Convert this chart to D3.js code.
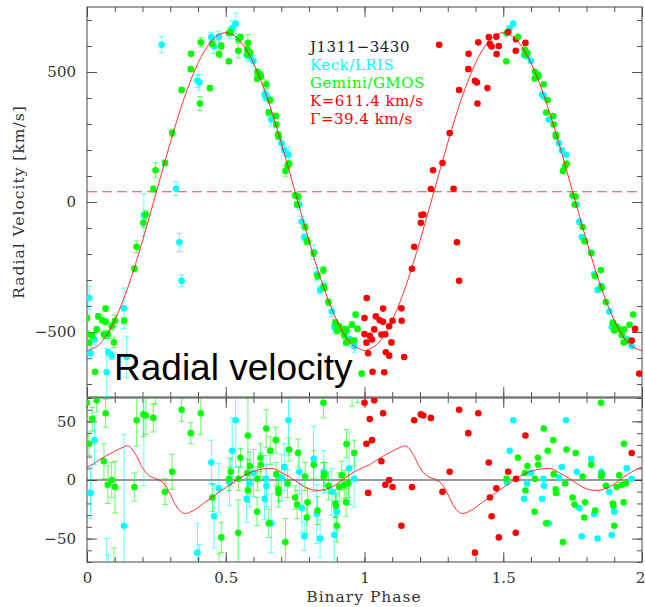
<!DOCTYPE html>
<html>
<head>
<meta charset="utf-8">
<script src="https://cdn.jsdelivr.net/npm/d3@7"></script>
<style>
  body { margin: 0; background: #fff; }
  svg { display: block; }
</style>
</head>
<body>
<svg id="chart" width="645" height="607"></svg>
<script>
// fit parameters (shown in the legend)
const starName = "J1311\u22123430"
const K = 611.4
const gamma = 39.4

// phase ticks / labels
const phaseTicks = [0, 0.5, 1, 1.5, 2]
const rvTicks = [-500, 0, 500]
const residTicks = [-50, 0, 50]

// sine fit (one cycle, redrawn for the second)
const fitPhase = [0, 0.05, 0.1, 0.15, 0.2, 0.25, 0.3, 0.35, 0.4, 0.45, 0.5,
                  0.55, 0.6, 0.65, 0.7, 0.75, 0.8, 0.85, 0.9, 0.95, 1]
const fitRV = [-572, -542, -455, -320, -149, 39, 228, 399, 534, 621, 651,
               621, 534, 399, 228, 39, -149, -320, -455, -542, -572]

// model minus sine, lower panel (one cycle)
const residPhase = [0, 0.025, 0.05, 0.075, 0.1, 0.125, 0.15, 0.175, 0.2, 0.225,
                    0.25, 0.275, 0.3, 0.325, 0.35, 0.375, 0.4, 0.425, 0.45, 0.475,
                    0.5, 0.525, 0.55, 0.575, 0.6, 0.625, 0.65, 0.675, 0.7, 0.725,
                    0.75, 0.775, 0.8, 0.825, 0.85, 0.875, 0.9, 0.925, 0.95, 0.975, 1]
const residModel = [11, 14, 18, 21.5, 24.5, 27.5, 29, 22, 10.5, 3.5,
                    1, -2.5, -12, -23.5, -28.5, -27, -23.5, -19, -15, -10.5,
                    -6.5, -2.5, 1.5, 5, 7.5, 9, 9.7, 9.5, 6.5, 3.3,
                    -0.5, -4.5, -7.5, -8.8, -8.5, -6.8, -3.5, 1, 5, 8.5, 11]

// [phase, RV, residual, error, red run (1 = drawn red in the repeated cycle)]
const geminiPts = [
  [0.000, -508, 66, 12, 1], [0.000, -446, 126, 10, 1], [0.007, -541, 31, 10, 1],
  [0.019, -515, 52, 10, 1], [0.029, -653, -90, 8, 1], [0.035, -490, 68, 10, 1],
  [0.041, -440, 112, 10, 1], [0.055, -455, 81, 10, 1], [0.061, -510, 16, 15, 1],
  [0.067, -461, 57, 12, 1], [0.067, -410, 109, 10, 1], [0.075, -509, -4, 16, 1],
  [0.089, -478, 0, 15, 1], [0.097, -540, -78, 20, 1], [0.101, -457, -6, 22, 1],
  [0.134, -457, -89, 12, 1], [0.171, -257, -6, 12, 1], [0.179, -172, 51, 22, 1],
  [0.203, -80, 56, 19, 1], [0.212, -48, 55, 16, 1], [0.239, 50, 53, 12, 1],
  [0.247, 122, 94, 29, 1], [0.281, 150, -10, 11, 1], [0.307, 265, 7, 15, 1],
  [0.341, 431, 60, 10, 1], [0.374, 511, 40, 9, 1], [0.375, 570, 101, 8, 1],
  [0.407, 379, -170, 27, 1], [0.410, 614, 57, 18, 1], [0.443, 438, -174, 10, 1],
  [0.452, 608, -15, 12, 1], [0.476, 569, -75, 12, 1], [0.484, 600, -49, 13, 1],
  [0.511, 541, -108, 8, 0], [0.512, 650, 1, 10, 0], [0.518, 654, 7, 12, 1],
  [0.545, 582, -45, 28, 1], [0.546, 626, 1, 10, 1], [0.553, 635, 19, 8, 0],
  [0.578, 585, 6, 12, 0], [0.580, 612, 38, 32, 1], [0.580, 566, -9, 10, 0],
  [0.587, 574, 12, 12, 0], [0.613, 475, -27, 12, 0], [0.614, 501, 1, 10, 0],
  [0.625, 490, 19, 12, 0], [0.626, 482, 13, 10, 0], [0.646, 453, 44, 16, 0],
  [0.655, 344, -37, 12, 0], [0.660, 392, 25, 12, 0], [0.680, 331, 34, 11, 0],
  [0.682, 298, 5, 10, 0], [0.689, 259, -8, 10, 0], [0.690, 252, -11, 12, 0],
  [0.715, 119, -53, 20, 0], [0.723, 139, -3, 12, 0], [0.728, 148, 26, 10, 0],
  [0.750, 25, -15, 10, 0], [0.757, -10, -21, 12, 0], [0.761, 21, 23, 12, 0],
  [0.786, -96, 3, 12, 0], [0.792, -150, -32, 14, 0], [0.795, -151, -19, 12, 0],
  [0.817, -197, 13, 12, 0], [0.831, -285, -26, 12, 0], [0.852, -262, 66, 13, 0],
  [0.853, -326, 3, 12, 0], [0.855, -331, 5, 10, 0], [0.870, -385, -5, 12, 0],
  [0.895, -464, -20, 12, 0], [0.897, -470, -22, 10, 0], [0.900, -494, -39, 14, 0],
  [0.909, -480, -6, 12, 0], [0.918, -489, 4, 12, 0], [0.927, -512, -4, 12, 0],
  [0.934, -540, -19, 12, 0], [0.935, -490, 31, 12, 0], [0.942, -535, -3, 12, 0],
  [0.955, -472, 75, 12, 0], [0.963, -533, 23, 11, 1], [0.968, -433, 127, 10, 0],
  [0.975, -488, 76, 10, 1], [0.990, -660, -89, 10, 1]
]

const keckPts = [
  [0.008, -369, 202, 45, 1], [0.013, -582, -11, 22, 1], [0.027, -529, 34, 21, 1],
  [0.071, -655, -143, 93, 1], [0.077, -578, -76, 12, 1], [0.089, -591, -112, 15, 1],
  [0.133, -409, -39, 78, 1], [0.143, -596, -255, 80, 1], [0.205, -50, 77, 82, 1],
  [0.269, 605, 493, 31, 1], [0.321, 51, -252, 26, 1], [0.333, -155, -520, 35, 1],
  [0.341, -303, -674, 23, 1], [0.398, 466, -62, 25, 1], [0.405, 460, -85, 30, 1],
  [0.448, 634, 15, 19, 1], [0.458, 598, -31, 27, 1], [0.475, 636, -7, 21, 1],
  [0.513, 648, -2, 20, 0], [0.523, 668, 25, 28, 0], [0.536, 686, 51, 40, 0],
  [0.575, 565, -16, 20, 0], [0.586, 561, -3, 20, 0], [0.600, 542, 6, 20, 0],
  [0.640, 413, -16, 18, 0], [0.645, 410, 1, 20, 0], [0.647, 405, -5, 18, 0],
  [0.664, 317, -37, 25, 0], [0.701, 226, 2, 20, 0], [0.711, 199, 11, 20, 0],
  [0.726, 182, 51, 30, 0], [0.765, -11, 7, 19, 0], [0.774, -76, -24, 21, 0],
  [0.783, -135, -48, 12, 0], [0.817, -193, 18, 28, 0], [0.828, -278, -29, 25, 0],
  [0.840, -338, -50, 16, 0], [0.853, -322, 7, 18, 0], [0.882, -421, -10, 20, 0],
  [0.891, -481, -47, 23, 0], [0.900, -482, -27, 16, 0], [0.945, -526, 10, 31, 0],
  [0.963, -554, 1, 24, 0]
]

const cKeck = "#00ffff", cGemini = "#00ff00", cRed = "#ff0000"
const serif = "DejaVu Serif"

const svg = d3.select("#chart")

const x = d3.scaleLinear().domain([0, 2]).range([87, 642])
const yTop = d3.scaleLinear().domain([-750, 750]).range([397, 7])
const yBot = d3.scaleLinear().domain([-70, 70]).range([562, 398])

// clip paths for the two panels
const defs = svg.append("defs")
defs.append("clipPath").attr("id", "clipTop").append("rect")
  .attr("x", 87).attr("y", 7).attr("width", 555).attr("height", 390)
defs.append("clipPath").attr("id", "clipBot").append("rect")
  .attr("x", 87).attr("y", 398).attr("width", 555).attr("height", 164)

// ---------- axes: minor + major ticks on every side, pointing in ----------
function frame(y, minorN, majorVals, labelX) {
  const [x0, x1] = x.range()
  const [yb, yt] = y.range()
  const xMinor = x.ticks(20)
  const yMinor = y.ticks(minorN)
  const fmt = d3.format("")
  const g = svg.append("g")

  g.append("g").attr("transform", `translate(${x0},0)`)
    .call(d3.axisLeft(y).tickValues(yMinor).tickSize(-5).tickFormat(""))
  g.append("g").attr("transform", `translate(${x0},0)`)
    .call(d3.axisLeft(y).tickValues(majorVals).tickSize(-10).tickPadding(11).tickFormat(fmt))
  g.append("g").attr("transform", `translate(${x1},0)`)
    .call(d3.axisRight(y).tickValues(yMinor).tickSize(-5).tickFormat(""))
  g.append("g").attr("transform", `translate(${x1},0)`)
    .call(d3.axisRight(y).tickValues(majorVals).tickSize(-10).tickFormat(""))
  g.append("g").attr("transform", `translate(0,${yt})`)
    .call(d3.axisTop(x).tickValues(xMinor).tickSize(-5).tickFormat(""))
  g.append("g").attr("transform", `translate(0,${yt})`)
    .call(d3.axisTop(x).tickValues(phaseTicks).tickSize(-10).tickFormat(""))
  g.append("g").attr("transform", `translate(0,${yb})`)
    .call(d3.axisBottom(x).tickValues(xMinor).tickSize(-5).tickFormat(""))
  const bottomAxis = g.append("g").attr("transform", `translate(0,${yb})`)
    .call(d3.axisBottom(x).tickValues(phaseTicks).tickSize(-10).tickPadding(10)
      .tickFormat(labelX ? fmt : ""))
  // last label sits on the window edge, nudge it in
  bottomAxis.selectAll(".tick text").filter(d => d === 2).attr("dx", -2)

  g.selectAll(".domain").remove()
  g.selectAll(".tick line").attr("stroke", "#555")
  g.selectAll("g").attr("font-family", serif).attr("font-size", 15)
  g.selectAll(".tick text").attr("fill", "#333")

  g.append("rect").attr("x", x0).attr("y", yt)
    .attr("width", x1 - x0).attr("height", yb - yt)
    .attr("fill", "none").attr("stroke", "#444").attr("stroke-width", 1)
}

frame(yTop, 15, rvTicks, false)
frame(yBot, 14, residTicks, true)

const gTop = svg.append("g").attr("clip-path", "url(#clipTop)")
const gBot = svg.append("g").attr("clip-path", "url(#clipBot)")

// systemic velocity
gTop.append("line")
  .attr("x1", x(0)).attr("x2", x(2))
  .attr("y1", yTop(gamma)).attr("y2", yTop(gamma))
  .attr("stroke", cRed).attr("stroke-opacity", 0.75)
  .attr("stroke-dasharray", "10,5")

// zero line of residuals
gBot.append("line")
  .attr("x1", x(0)).attr("x2", x(2))
  .attr("y1", yBot(0)).attr("y2", yBot(0))
  .attr("stroke", "#333")

function errBars(g, y, rows, col, color) {
  g.append("g").selectAll("path")
    .data(rows)
    .join("path")
    .attr("d", d => {
      const px = x(d[0]), v = d[col]
      const y1 = y(v + d[3]), y2 = y(v - d[3])
      return `M${px - 3},${y1}H${px + 3}M${px},${y1}V${y2}M${px - 3},${y2}H${px + 3}`
    })
    .attr("fill", "none")
    .attr("stroke", color)
    .attr("stroke-opacity", 0.6)
    .attr("stroke-width", 1)
}

function dots(g, y, rows, col, color, shift) {
  g.append("g").selectAll("circle")
    .data(rows)
    .join("circle")
    .attr("cx", d => x(d[0] + shift))
    .attr("cy", d => y(d[col]))
    .attr("r", 3.3)
    .attr("fill", d => shift && d[4] ? cRed : color)
}

// first cycle with error bars
errBars(gTop, yTop, keckPts, 1, cKeck)
errBars(gTop, yTop, geminiPts, 1, cGemini)
dots(gTop, yTop, keckPts, 1, cKeck, 0)
dots(gTop, yTop, geminiPts, 1, cGemini, 0)
errBars(gBot, yBot, keckPts, 2, cKeck)
errBars(gBot, yBot, geminiPts, 2, cGemini)
dots(gBot, yBot, keckPts, 2, cKeck, 0)
dots(gBot, yBot, geminiPts, 2, cGemini, 0)

// second cycle, no error bars
dots(gTop, yTop, keckPts, 1, cKeck, 1)
dots(gTop, yTop, geminiPts, 1, cGemini, 1)
dots(gBot, yBot, keckPts, 2, cKeck, 1)
dots(gBot, yBot, geminiPts, 2, cGemini, 1)

// fit curves
const fitLine = d3.line().curve(d3.curveNatural)
const residLine = d3.line().curve(d3.curveCatmullRom)
;[0, 1].forEach(c => {
  gTop.append("path")
    .attr("d", fitLine(fitPhase.map((p, i) => [x(p + c), yTop(fitRV[i])])))
    .attr("fill", "none").attr("stroke", cRed)
    .attr("stroke-opacity", 0.8).attr("stroke-width", 1)
  gBot.append("path")
    .attr("d", residLine(residPhase.map((p, i) => [x(p + c), yBot(residModel[i])])))
    .attr("fill", "none").attr("stroke", cRed)
    .attr("stroke-opacity", 0.8).attr("stroke-width", 1)
})

// ---------- texts ----------
const legend = [
  [starName, "#222"],
  ["Keck/LRIS", cKeck],
  ["Gemini/GMOS", cGemini],
  [`K=${K} km/s`, cRed],
  [`\u0393=${gamma} km/s`, cRed]
]
svg.append("g").selectAll("text")
  .data(legend)
  .join("text")
  .attr("x", 310)
  .attr("y", (d, i) => 52 + i * 18)
  .attr("font-family", serif)
  .attr("font-size", 15)
  .attr("letter-spacing", 0.5)
  .attr("fill", d => d[1])
  .text(d => d[0])

svg.append("text")
  .attr("transform", "translate(24,202) rotate(-90)")
  .attr("text-anchor", "middle")
  .attr("font-family", serif)
  .attr("font-size", 15.5)
  .attr("letter-spacing", 1)
  .attr("fill", "#333")
  .text("Radial Velocity [km/s]")

svg.append("text")
  .attr("x", 364).attr("y", 602)
  .attr("text-anchor", "middle")
  .attr("font-family", serif)
  .attr("font-size", 15.5)
  .attr("letter-spacing", 1)
  .attr("fill", "#333")
  .text("Binary Phase")

svg.append("text")
  .attr("x", 114).attr("y", 380)
  .attr("font-family", "Liberation Sans, Arial, sans-serif")
  .attr("font-size", 37)
  .attr("fill", "#000")
  .text("Radial velocity")
</script>
</body>
</html>
